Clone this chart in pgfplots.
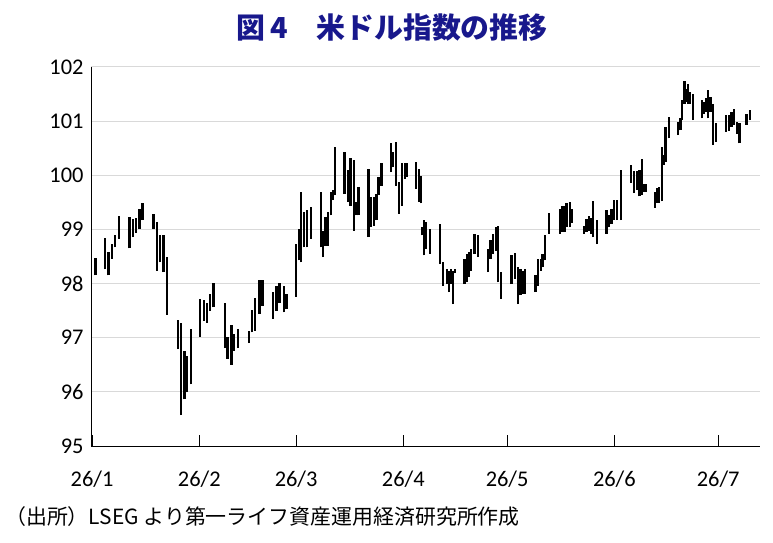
\documentclass[border=0pt]{standalone}
\usepackage{pgfplots}
\pgfplotsset{compat=1.18}
\usepackage{pgfplotstable}
\usepackage{fontspec}
\setmainfont{Carlito}
\newfontfamily\jp{Noto Sans CJK JP}
\definecolor{navy}{RGB}{24,24,140}
\definecolor{gridgray}{RGB}{217,217,217}

\pgfplotstableread{
d lo hi
1.0 98.15 98.47
3.8 98.26 98.84
4.8 98.15 98.58
5.8 98.46 98.74
6.7 98.67 98.89
7.7 98.83 99.25
10.8 98.65 99.23
11.8 98.86 99.20
12.7 98.94 99.21
13.7 99.01 99.38
14.6 99.17 99.48
17.8 99.01 99.29
18.8 98.24 99.14
19.7 98.39 98.89
20.7 98.21 98.89
21.7 97.42 98.49
24.8 96.79 97.33
25.7 95.57 97.27
26.7 95.86 96.76
27.5 95.99 96.67
28.6 96.14 97.16
31.3 97.01 97.72
32.4 97.31 97.69
33.2 97.28 97.65
34.0 97.50 97.81
35.1 97.56 98.01
38.4 96.81 97.64
39.2 96.61 97.01
40.3 96.50 97.24
41.1 96.76 97.07
42.1 96.81 97.16
45.3 96.90 97.13
46.2 97.10 97.51
47.2 97.13 97.73
48.4 97.44 98.06
49.3 97.59 98.07
52.3 97.35 97.84
53.3 97.50 97.96
54.2 97.65 98.01
55.4 97.47 97.96
56.2 97.53 97.81
59.0 97.76 98.73
59.9 98.43 99.01
60.5 98.39 99.69
61.3 98.67 99.32
62.2 98.67 99.35
63.2 98.83 99.41
66.1 98.67 99.69
66.8 98.49 98.98
67.5 98.70 99.23
68.2 98.70 99.32
69.0 99.26 99.69
69.7 99.54 99.72
70.2 99.63 100.52
73.0 99.66 100.43
74.0 99.51 100.09
74.7 99.44 100.31
75.7 98.98 100.28
76.4 99.26 99.51
77.0 99.26 99.78
79.9 98.86 100.12
80.5 99.04 99.60
81.5 99.07 99.60
82.2 99.17 99.66
82.8 99.63 99.97
83.7 99.81 100.22
86.5 100.06 100.59
87.0 100.15 100.43
87.8 99.81 100.62
88.7 99.29 99.88
89.7 99.44 100.22
90.5 99.94 100.22
91.1 99.97 100.22
93.7 99.75 100.25
94.5 99.51 100.12
95.0 99.48 99.99
95.5 98.89 99.04
96.0 98.52 99.17
96.6 98.64 99.14
97.6 98.55 99.01
100.6 98.36 99.10
101.4 97.96 98.39
102.7 97.99 98.27
103.2 97.84 98.24
103.8 97.99 98.27
104.4 97.62 98.24
104.9 98.19 98.27
107.7 97.99 98.46
108.3 98.02 98.55
109.0 98.12 98.58
109.6 98.24 98.64
110.6 98.55 98.92
111.6 98.49 98.89
114.5 98.21 98.64
115.2 98.46 98.80
115.9 98.55 98.92
116.7 98.61 99.04
117.3 98.02 99.07
118.3 97.72 98.21
121.3 97.99 98.52
122.3 98.09 98.56
123.2 97.62 98.31
123.9 97.78 98.27
124.6 97.81 98.24
125.1 97.81 98.27
128.2 97.84 98.15
129.0 97.96 98.46
129.7 98.24 98.46
130.2 98.30 98.55
130.9 98.43 98.89
132.1 98.92 99.30
135.3 98.92 99.38
135.9 98.95 99.44
136.6 98.95 99.44
137.2 99.04 99.48
138.2 99.04 99.51
138.8 99.12 99.38
142.2 98.92 99.07
142.9 98.95 99.20
143.6 98.98 99.24
144.3 98.92 99.22
144.9 98.86 99.52
145.9 98.73 99.17
148.7 98.92 99.35
149.4 99.04 99.26
150.2 99.10 99.38
150.9 99.17 99.54
151.8 99.17 99.54
153.0 99.17 100.09
155.9 99.86 100.19
156.6 99.67 100.07
157.6 99.73 100.07
158.3 99.61 100.10
158.9 99.64 100.30
159.5 99.70 99.83
160.0 99.70 99.83
162.7 99.40 99.70
163.4 99.49 99.77
163.9 99.49 99.79
164.7 99.52 100.53
165.2 100.19 100.38
165.8 100.25 100.90
166.8 100.68 101.08
169.4 100.74 100.99
170.1 100.83 101.05
170.6 101.02 101.39
171.3 101.32 101.75
171.9 101.35 101.60
172.3 101.32 101.69
172.8 101.32 101.54
173.7 101.02 101.51
176.3 101.05 101.39
177.0 101.14 101.35
177.5 101.17 101.42
178.1 101.05 101.57
178.8 101.17 101.45
179.6 100.56 101.32
180.4 100.62 100.96
183.3 100.80 101.11
184.1 100.82 101.11
184.9 100.90 101.17
185.5 100.93 101.23
186.5 100.77 100.99
187.2 100.59 100.96
189.2 100.93 101.14
190.2 101.02 101.20
}\dxy

\begin{document}
\begin{tikzpicture}
\useasboundingbox (-91bp,-97bp) rectangle (682bp,446bp);
\begin{axis}[
  at={(0bp,0bp)}, anchor=south west,
  scale only axis, width=669bp, height=379bp,
  xmin=-0.3, xmax=193.1, ymin=95, ymax=102,
  axis x line=bottom, axis y line=left,
  axis line style={-, black, line width=0.9bp},
  xtick={0,31,59,90,120,151,181},
  xticklabels={26/1,26/2,26/3,26/4,26/5,26/6,26/7},
  ytick={95,96,...,102},
  ymajorgrids, grid style={gridgray, line width=1bp},
  tick align=inside, major tick length=11bp,
  ytick style={draw=none},
  xtick style={black, line width=0.9bp},
  tick label style={font=\fontsize{22.5}{24}\selectfont},
  /pgf/number format/assume math mode=true,
  xticklabel style={yshift=-21bp},
  yticklabel style={xshift=-4bp},
]
\addplot[draw=none, mark=none,
  error bars/.cd, y dir=plus, y explicit, error mark=none,
  error bar style={draw=black, line width=2.3bp}]
  table[x=d, y=lo, y error expr=\thisrow{hi}-\thisrow{lo}] {\dxy};
\end{axis}
\node[font=\jp\bfseries\fontsize{29}{30}\selectfont, text=navy] at (301bp,418bp) {図\,4\quad 米ドル指数の推移};
\node[anchor=west, inner sep=0pt, font=\jp\fontsize{21}{22}\selectfont] at (-86bp,-71bp) {（出所）LSEG より第一ライフ資産運用経済研究所作成};
\end{tikzpicture}
\end{document}
